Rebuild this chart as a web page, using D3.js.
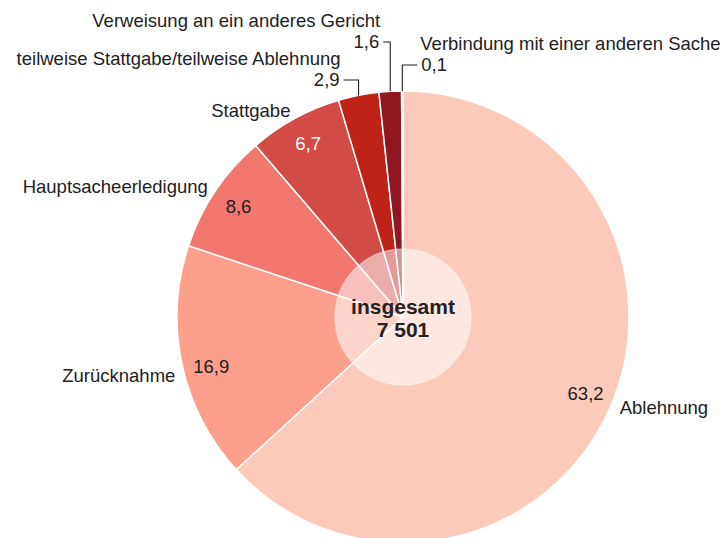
<!DOCTYPE html>
<html>
<head>
<meta charset="utf-8">
<script src="https://cdn.jsdelivr.net/npm/d3@7"></script>
<style>
  body { margin: 0; background: #fff; }
  text { font-family: "Liberation Sans", Arial, sans-serif; fill: #222; }
</style>
</head>
<body>
<div id="chart"></div>
<script>
// data (share in %)
var categories = ["Ablehnung", "Zurücknahme", "Hauptsacheerledigung", "Stattgabe",
  "teilweise Stattgabe/teilweise Ablehnung", "Verweisung an ein anderes Gericht",
  "Verbindung mit einer anderen Sache"];
var values = [63.2, 16.9, 8.6, 6.7, 2.9, 1.6, 0.1];
var valueLabels = ["63,2", "16,9", "8,6", "6,7", "2,9", "1,6", "0,1"];
var totalLabel = ["insgesamt", "7 501"];

var colors = ["#fdc9bb", "#fca08c", "#f2776d", "#d34b45", "#bf2217", "#8e1720", "#6a0e16"];

var width = 728, height = 538;
var cx = 403, cy = 317, radius = 226, innerR = 68;
var fontSize = 18.5;

// label angle nudge (degrees) for the big slices
var labelNudge = [-1, -2.3, 0, 0];

// small slices get a leader line going up: elbow height, side, length of the horizontal bit
var leaders = {
  4: {y: 80, side: -1, len: 15},
  5: {y: 42, side: -1, len: 7},
  6: {y: 65, side: 1, len: 15}
};

var svg = d3.select("#chart").append("svg")
    .attr("width", width)
    .attr("height", height);

var g = svg.append("g")
    .attr("transform", `translate(${cx}, ${cy})`);

var pie = d3.pie().sort(null).value(function(d) { return d; });
var arcs = pie(values);

var arc = d3.arc().innerRadius(0).outerRadius(radius);

g.selectAll("path.slice")
    .data(arcs)
    .enter()
    .append("path")
    .attr("class", "slice")
    .attr("d", arc)
    .attr("fill", function(d, i) { return colors[i]; })
    .attr("stroke", "#fff")
    .attr("stroke-width", 1.5)
    .attr("stroke-linejoin", "round");

// light disc in the middle
g.append("circle")
    .attr("r", innerR)
    .attr("fill", "rgba(255,255,255,0.55)")
    .attr("stroke", "rgba(255,255,255,0.4)")
    .attr("stroke-width", 1.5);

function midAngle(d) { return (d.startAngle + d.endAngle) / 2; }
function labelAngle(d) { return midAngle(d) + (labelNudge[d.index] || 0) * Math.PI / 180; }
function polar(a, r) { return [r * Math.sin(a), -r * Math.cos(a)]; }

var big = arcs.filter(function(d) { return leaders[d.index] === undefined; });

// value labels inside big slices
var valueR = 198;
g.selectAll("text.value")
    .data(big)
    .enter()
    .append("text")
    .attr("class", "value")
    .attr("x", function(d) { return polar(labelAngle(d), valueR)[0]; })
    .attr("y", function(d) { return polar(labelAngle(d), valueR)[1]; })
    .attr("dy", "0.35em")
    .attr("text-anchor", "middle")
    .style("font-size", fontSize + "px")
    .style("fill", function(d) { return d.index == 3 ? "#fff" : "#222"; })
    .text(function(d) { return valueLabels[d.index]; });

// category labels outside big slices
var labelR = 235;
g.selectAll("text.cat")
    .data(big)
    .enter()
    .append("text")
    .attr("class", "cat")
    .attr("x", function(d) { return polar(labelAngle(d), labelR)[0]; })
    .attr("y", function(d) { return polar(labelAngle(d), labelR)[1]; })
    .attr("dy", "0.35em")
    .attr("text-anchor", function(d) { return midAngle(d) < Math.PI ? "start" : "end"; })
    .style("font-size", fontSize + "px")
    .text(function(d) { return categories[d.index]; });

// small slices: leader line + value + category above it
var small = arcs.filter(function(d) { return leaders[d.index] !== undefined; });
small.forEach(function(d) {
  var L = leaders[d.index];
  var p = polar(midAngle(d), radius);
  var ey = L.y - cy;
  var ex = p[0] + L.side * L.len;
  g.append("path")
      .attr("d", `M${p[0]},${p[1]}V${ey}H${ex}`)
      .attr("fill", "none")
      .attr("stroke", "#222")
      .attr("stroke-width", 1.1);
  g.append("text")
      .attr("x", ex + L.side * 4)
      .attr("y", ey)
      .attr("dy", "0.35em")
      .attr("text-anchor", L.side < 0 ? "end" : "start")
      .style("font-size", fontSize + "px")
      .text(valueLabels[d.index]);
  g.append("text")
      .attr("x", ex + L.side * 3)
      .attr("y", ey - 15)
      .attr("text-anchor", L.side < 0 ? "end" : "start")
      .style("font-size", fontSize + "px")
      .text(categories[d.index]);
});

// total in the centre
g.append("text")
    .attr("y", -3)
    .attr("text-anchor", "middle")
    .style("font-size", "21px")
    .style("font-weight", "bold")
    .text(totalLabel[0]);
g.append("text")
    .attr("y", 20)
    .attr("text-anchor", "middle")
    .style("font-size", "21px")
    .style("font-weight", "bold")
    .text(totalLabel[1]);
</script>
</body>
</html>
